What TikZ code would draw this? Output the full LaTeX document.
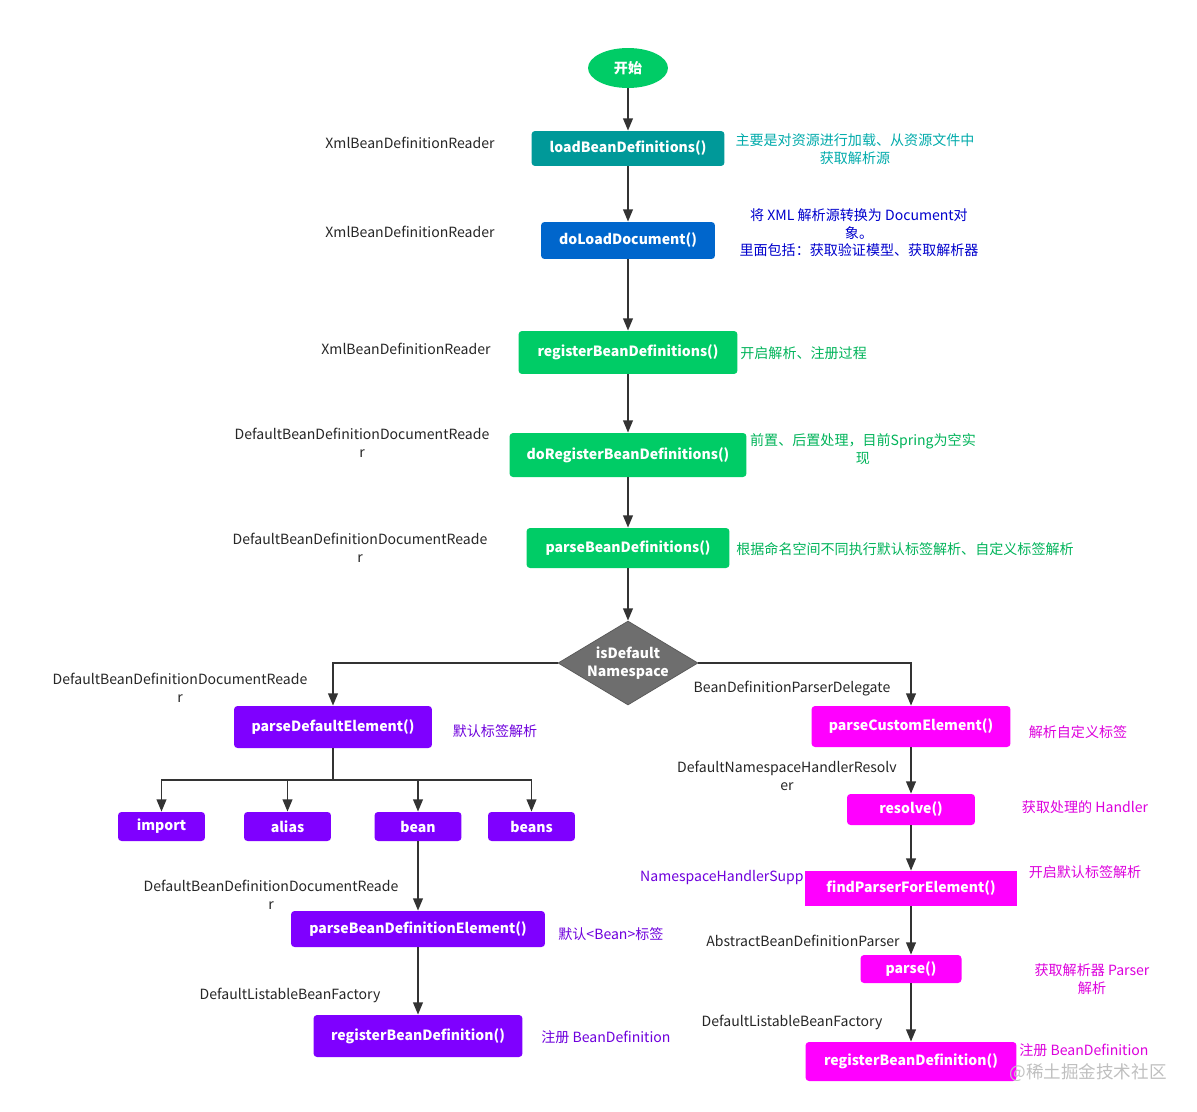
\documentclass[tikz,border=0pt]{standalone}
\usepackage{fontspec}
\setmainfont{Noto Sans CJK SC}
\usetikzlibrary{shapes.geometric, arrows.meta, positioning}
\definecolor{flowgreen}{RGB}{0,204,102}
\definecolor{flowteal}{RGB}{0,153,153}
\definecolor{flowblue}{RGB}{0,102,204}
\definecolor{flowgray}{RGB}{110,110,110}
\definecolor{flowpurple}{RGB}{127,0,255}
\definecolor{flowpink}{RGB}{255,0,255}
\definecolor{arrowgray}{RGB}{51,51,51}
\definecolor{tealtext}{RGB}{0,170,170}
\definecolor{bluetext}{RGB}{0,0,204}
\definecolor{greentext}{RGB}{0,179,89}
\definecolor{purpletext}{RGB}{110,0,220}
\definecolor{pinktext}{RGB}{220,0,220}
\tikzstyle{flowbox} = [rectangle, rounded corners=2pt, text centered, text=white, inner sep=0pt, font=\fontsize{8}{10}\selectfont\bfseries]
\tikzstyle{startstop} = [ellipse, minimum width=1.6cm, minimum height=0.8cm, inner sep=0pt, fill=flowgreen, text=white, font=\fontsize{8}{10}\selectfont\bfseries]
\tikzstyle{tealbox} = [flowbox, fill=flowteal]
\tikzstyle{bluebox} = [flowbox, fill=flowblue]
\tikzstyle{greenbox} = [flowbox, fill=flowgreen]
\tikzstyle{purplebox} = [flowbox, fill=flowpurple]
\tikzstyle{pinkbox} = [flowbox, fill=flowpink]
\tikzstyle{decision} = [diamond, aspect=1.67, minimum width=2.8cm, minimum height=1.68cm, inner sep=-1.5pt, align=center, fill=flowgray, draw=flowgray!80!black, text=white, font=\fontsize{8}{10}\selectfont\bfseries]
\tikzstyle{classname} = [align=center, inner sep=0pt, text=black!85, font=\fontsize{8}{10}\selectfont]
\tikzstyle{note} = [align=center, inner sep=0pt, font=\fontsize{8}{10}\selectfont]
\tikzstyle{arrow} = [line width=1.1pt, draw=arrowgray, -{Triangle[width=5.5pt,length=7pt]}]
\tikzstyle{line} = [line width=1.1pt, draw=arrowgray]
\begin{document}
\begin{tikzpicture}[x=0.02cm, y=-0.02cm]
\useasboundingbox (0,0) rectangle (1197,1112);

% Main column
\node (start) [startstop] at (628,68) {开始};
\node (load) [tealbox, minimum width=3.86cm, minimum height=0.70cm] at (628,148.5) {loadBeanDefinitions()};
\node (doLoad) [bluebox, minimum width=3.48cm, minimum height=0.74cm] at (628,240.5) {doLoadDocument()};
\node (register) [greenbox, minimum width=4.38cm, minimum height=0.86cm] at (628,352.5) {registerBeanDefinitions()};
\node (doRegister) [greenbox, minimum width=4.74cm, minimum height=0.88cm] at (628,455) {doRegisterBeanDefinitions()};
\node (parseDefs) [greenbox, minimum width=4.06cm, minimum height=0.80cm] at (628,548) {parseBeanDefinitions()};
\node (isDefault) [decision] at (628,663) {isDefault\\Namespace};

\node (loadCls) [classname] at (410,143) {XmlBeanDefinitionReader};
\node (doLoadCls) [classname] at (410,232) {XmlBeanDefinitionReader};
\node (registerCls) [classname] at (406,349) {XmlBeanDefinitionReader};
\node (doRegisterCls) [classname] at (362,443) {DefaultBeanDefinitionDocumentReade\\r};
\node (parseDefsCls) [classname] at (360,548) {DefaultBeanDefinitionDocumentReade\\r};

\node (loadNote) [note, text=tealtext] at (855,149) {主要是对资源进行加载、从资源文件中\\获取解析源};
\node (doLoadNote) [note, text=bluetext] at (859,233) {将 XML 解析源转换为 Document对\\象。\\里面包括：获取验证模型、获取解析器};
\node (registerNote) [note, text=greentext, anchor=west] at (740,353) {开启解析、注册过程};
\node (doRegisterNote) [note, text=greentext] at (863,449) {前置、后置处理，目前Spring为空实\\现};
\node (parseDefsNote) [note, text=greentext, anchor=west] at (736,549) {根据命名空间不同执行默认标签解析、自定义标签解析};

% Default namespace
\node (parseDefault) [purplebox, minimum width=3.96cm, minimum height=0.84cm] at (333,727) {parseDefaultElement()};
\node (import) [purplebox, minimum width=1.74cm, minimum height=0.58cm] at (161.5,826.5) {import};
\node (alias) [purplebox, minimum width=1.74cm, minimum height=0.58cm] at (287.5,826.5) {alias};
\node (bean) [purplebox, minimum width=1.74cm, minimum height=0.58cm] at (418,826.5) {bean};
\node (beans) [purplebox, minimum width=1.74cm, minimum height=0.58cm] at (531.5,826.5) {beans};
\node (parseBeanDef) [purplebox, minimum width=5.08cm, minimum height=0.72cm] at (418,929) {parseBeanDefinitionElement()};
\node (registerDefL) [purplebox, minimum width=4.18cm, minimum height=0.84cm] at (418,1036) {registerBeanDefinition()};
\coordinate (split) at (333,780);

\node (parseDefaultCls) [classname] at (180,688) {DefaultBeanDefinitionDocumentReade\\r};
\node (parseBeanDefCls) [classname] at (271,895) {DefaultBeanDefinitionDocumentReade\\r};
\node (registerDefLCls) [classname] at (290,995) {DefaultListableBeanFactory};

\node (parseDefaultNote) [note, text=purpletext] at (495,731) {默认标签解析};
\node (parseBeanDefNote) [note, text=purpletext, anchor=west] at (558,934) {默认<Bean>标签};
\node (registerDefLNote) [note, text=purpletext, anchor=west] at (541,1037) {注册 BeanDefinition};

% Custom namespace
\node (parseCustom) [pinkbox, minimum width=3.98cm, minimum height=0.82cm] at (911,726.5) {parseCustomElement()};
\node (resolve) [pinkbox, minimum width=2.56cm, minimum height=0.62cm] at (911,809.5) {resolve()};
\node (findParser) [pinkbox, rounded corners=0pt, minimum width=4.24cm, minimum height=0.70cm] at (911,888.5) {findParserForElement()};
\node (parse) [pinkbox, minimum width=2.02cm, minimum height=0.56cm] at (911,969) {parse()};
\node (registerDefR) [pinkbox, minimum width=4.22cm, minimum height=0.78cm] at (911,1061.5) {registerBeanDefinition()};

\node (parseCustomCls) [classname] at (792,689) {BeanDefinitionParserDelegate};
\node (resolveCls) [classname] at (787,776) {DefaultNamespaceHandlerResolv\\er};
\node (findParserCls) [note, text=purpletext, anchor=east] at (804,878) {NamespaceHandlerSupp};
\node (parseCls) [classname] at (803,941) {AbstractBeanDefinitionParser};
\node (registerDefRCls) [classname] at (792,1022) {DefaultListableBeanFactory};

\node (parseCustomNote) [note, text=pinktext] at (1078,732) {解析自定义标签};
\node (resolveNote) [note, text=pinktext] at (1085,807) {获取处理的 Handler};
\node (findParserNote) [note, text=pinktext] at (1085,872) {开启默认标签解析};
\node (parseNote) [note, text=pinktext] at (1092,979) {获取解析器 Parser\\解析};
\node (registerDefRNote) [note, text=pinktext, anchor=west] at (1019,1050) {注册 BeanDefinition};

\node (watermark) [note, text=black!25, font=\fontsize{10}{12}\selectfont] at (1088,1073) {@稀土掘金技术社区};

\draw[arrow] (start) -- (load);
\draw[arrow] (load) -- (doLoad);
\draw[arrow] (doLoad) -- (register);
\draw[arrow] (register) -- (doRegister);
\draw[arrow] (doRegister) -- (parseDefs);
\draw[arrow] (parseDefs) -- (isDefault);

\draw[arrow] (isDefault.west) -| (parseDefault.north);
\draw[line] (parseDefault) -- (split);
\draw[arrow] (split) -| (import.north);
\draw[arrow] (split) -| (alias.north);
\draw[arrow] (split) -| (bean.north);
\draw[arrow] (split) -| (beans.north);
\draw[arrow] (bean) -- (parseBeanDef);
\draw[arrow] (parseBeanDef) -- (registerDefL);

\draw[arrow] (isDefault.east) -| (parseCustom.north);
\draw[arrow] (parseCustom) -- (resolve);
\draw[arrow] (resolve) -- (findParser);
\draw[arrow] (findParser) -- (parse);
\draw[arrow] (parse) -- (registerDefR);

\end{tikzpicture}
\end{document}
